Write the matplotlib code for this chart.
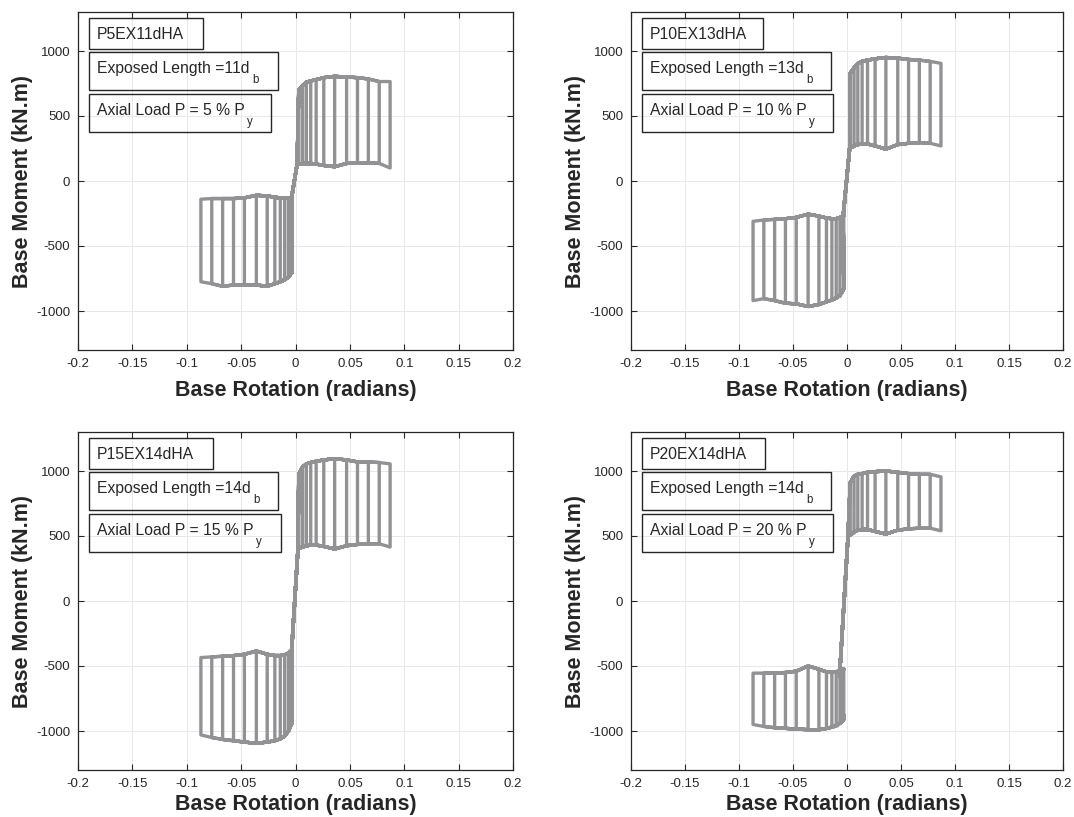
import numpy as np
import matplotlib
matplotlib.use("Agg")
import matplotlib.pyplot as plt
from matplotlib.patches import Rectangle

plt.rcParams["font.family"] = ["Liberation Sans", "DejaVu Sans"]

# peak base rotation (rad) of each loading cycle, shared by the four specimens
amps = [0.003, 0.0065, 0.010, 0.014, 0.019, 0.026, 0.036, 0.047, 0.057, 0.067, 0.077, 0.087]

names = ["P5EX11dHA", "P10EX13dHA", "P15EX14dHA", "P20EX14dHA"]
exposed = ["11", "13", "14", "14"]
axial = ["5", "10", "15", "20"]

# base moment (kN.m) read at each amplitude:
#   top_pos  upper branch, positive rotation
#   low_pos  unloading plateau, positive rotation
#   low_neg  unloading plateau, negative rotation
#   top_neg  lower branch, negative rotation
p5_top_pos = [700, 735, 760, 770, 780, 795, 805, 800, 795, 785, 765, 765]
p5_low_pos = [130, 135, 135, 135, 130, 120, 110, 135, 140, 140, 135, 100]
p5_low_neg = [-125, -130, -130, -130, -125, -115, -110, -130, -135, -135, -135, -140]
p5_top_neg = [-700, -740, -760, -775, -790, -810, -800, -800, -800, -810, -790, -775]

p10_top_pos = [830, 870, 905, 920, 930, 940, 950, 945, 935, 930, 920, 905]
p10_low_pos = [255, 270, 280, 285, 285, 270, 245, 280, 290, 295, 290, 270]
p10_low_neg = [-265, -280, -290, -290, -285, -270, -255, -280, -290, -295, -300, -310]
p10_top_neg = [-830, -880, -900, -915, -930, -950, -965, -945, -940, -920, -905, -920]

p15_top_pos = [975, 1030, 1055, 1065, 1075, 1085, 1095, 1085, 1070, 1070, 1065, 1055]
p15_low_pos = [405, 415, 425, 430, 430, 420, 400, 425, 435, 440, 440, 415]
p15_low_neg = [-375, -400, -415, -420, -420, -410, -385, -410, -420, -425, -430, -435]
p15_top_neg = [-935, -1000, -1040, -1060, -1075, -1085, -1095, -1085, -1075, -1065, -1050, -1030]

p20_top_pos = [910, 960, 975, 980, 990, 995, 1000, 990, 980, 975, 975, 955]
p20_low_pos = [505, 530, 545, 550, 550, 535, 515, 545, 555, 560, 560, 540]
p20_low_neg = [-525, -535, -545, -550, -545, -525, -500, -540, -550, -555, -555, -555]
p20_top_neg = [-910, -940, -960, -970, -980, -990, -990, -985, -980, -975, -965, -950]

# rotation where the steep central branch meets the plateaus
link_neg = [-0.0035, -0.0035, -0.0035, -0.0065]
link_pos = [0.0015, 0.0025, 0.0023, 0.001]

xticks = [-0.2, -0.15, -0.1, -0.05, 0, 0.05, 0.1, 0.15, 0.2]
yticks = [-1000, -500, 0, 500, 1000]

specimens = [
    (p5_top_pos, p5_low_pos, p5_low_neg, p5_top_neg),
    (p10_top_pos, p10_low_pos, p10_low_neg, p10_top_neg),
    (p15_top_pos, p15_low_pos, p15_low_neg, p15_top_neg),
    (p20_top_pos, p20_low_pos, p20_low_neg, p20_top_neg),
]

LINE = "#929295"
DARK = "#262626"


def hysteresis(top_pos, low_pos, low_neg, top_neg, xl_neg, xl_pos):
    """Chain every cycle into one polyline."""
    a = np.asarray(amps)
    xs, ys = [], []
    for i in range(len(a)):
        xs += [xl_neg, xl_pos] + list(a[:i + 1]) + list(a[i::-1]) + [xl_pos, xl_neg]
        ys += [low_neg[0], low_pos[0]] + top_pos[:i + 1] + low_pos[i::-1] + [low_pos[0], low_neg[0]]
        xs += list(-a[:i + 1]) + list(-a[i::-1]) + [xl_neg]
        ys += low_neg[:i + 1] + top_neg[i::-1] + [low_neg[0]]
    return np.array(xs), np.array(ys)


fig = plt.figure(figsize=(10.74, 8.17), dpi=100)
W, H = 1074, 817
# axes boxes in pixels: left, top, right, bottom
boxes_px = [(78, 12, 513, 350), (631, 12, 1063, 350), (78, 432, 513, 770), (631, 432, 1063, 770)]
# widths (px) of the three annotation boxes in each panel
box_w = [(114, 189, 182), (121, 189, 191), (124, 189, 192), (123, 189, 191)]

for k, (l, t, r, b) in enumerate(boxes_px):
    ax = fig.add_axes([l / W, 1 - b / H, (r - l) / W, (b - t) / H])
    x, y = hysteresis(*specimens[k], link_neg[k], link_pos[k])
    ax.plot(x, y, color=LINE, lw=2.4, solid_joinstyle="round", zorder=3)

    ax.set_xlim(-0.2, 0.2)
    ax.set_ylim(-1300, 1300)
    ax.set_xticks(xticks)
    ax.set_xticklabels(["%g" % v for v in xticks])
    ax.set_yticks(yticks)
    ax.set_yticklabels(["%g" % v for v in yticks])
    ax.grid(True, color="#e8e8e8", lw=0.7, zorder=0)
    ax.tick_params(direction="in", top=True, right=True, length=4, width=0.8,
                   color=DARK, labelcolor=DARK, labelsize=9.5, pad=5.5)
    for s in ax.spines.values():
        s.set_color(DARK)
        s.set_linewidth(0.9)

    ax.set_xlabel("Base Rotation (radians)", fontsize=15.5, fontweight="bold", color=DARK)
    ax.set_ylabel("Base Moment (kN.m)", fontsize=15.5, fontweight="bold", color=DARK)
    ax.xaxis.set_label_coords(0.5, -0.088 if k < 2 else -0.072)
    ax.yaxis.set_label_coords(-0.104, 0.5)

    wpx, hpx = r - l, b - t
    lines = [(names[k], None),
             ("Exposed Length =" + exposed[k] + "d", "b"),
             ("Axial Load P = " + axial[k] + " % P", "y")]
    tops = [6.3, 40.3, 82.3]
    heights = [31, 38, 38]
    for (main, sub), top, h, w in zip(lines, tops, heights, box_w[k]):
        ax.add_patch(Rectangle((11 / wpx, 1 - (top + h) / hpx), w / wpx, h / hpx,
                               transform=ax.transAxes, fill=False, edgecolor=DARK,
                               lw=1.0, zorder=5))
        txt = ax.text((11 + 7.5) / wpx, 1 - (top + 20.5) / hpx, main,
                      transform=ax.transAxes, fontsize=11.3, color=DARK,
                      ha="left", va="baseline", zorder=6)
        if sub:
            ax.annotate(sub, xy=(1, 0), xycoords=txt, xytext=(2.2, -5.5),
                        textcoords="offset points", fontsize=8.3, color=DARK,
                        ha="left", va="baseline", zorder=6)

fig.savefig("out.png", dpi=100)
